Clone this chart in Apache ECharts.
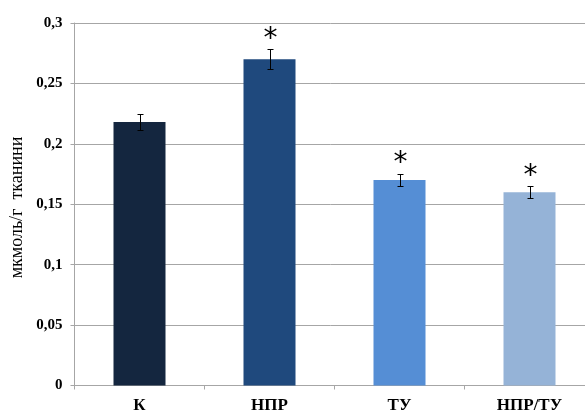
<!DOCTYPE html>
<html><head><meta charset="utf-8">
<script src="https://cdn.jsdelivr.net/npm/echarts@6/dist/echarts.min.js"></script>
<style>html,body{margin:0;padding:0;background:#fff}#c{width:585px;height:415px}</style>
</head><body><div id="c"></div>
<script>
const categories = ['К', 'НПР', 'ТУ', 'НПР/ТУ'];
const values = [0.218, 0.270, 0.170, 0.160];
const errors = [0.0065, 0.0083, 0.0053, 0.0049];
const marks = ['', '*', '*', '*'];
const colors = ['#14263f', '#1f497d', '#558ed5', '#95b3d7'];
const yTicks = [0, 0.05, 0.1, 0.15, 0.2, 0.25, 0.3];
const yName = 'мкмоль/г  тканини';

const chart = echarts.init(document.getElementById('c'));
chart.setOption({
  animation: false,
  grid: {left: 74.5, right: -9.5, top: 23, bottom: 29.5, containLabel: false, outerBoundsMode: 'none'},
  graphic: [{
    type: 'text', x: 17, y: 207.5, rotation: Math.PI / 2,
    style: {text: yName, align: 'center', verticalAlign: 'middle', font: '18px "Liberation Serif"', fill: '#000'}
  }],
  xAxis: {
    type: 'category', data: categories,
    axisLine: {lineStyle: {color: '#a6a6a6', width: 1}},
    axisTick: {show: true, length: 4, lineStyle: {color: '#a6a6a6'}},
    axisLabel: {color: '#000', fontFamily: 'Liberation Serif', fontWeight: 'bold', fontSize: 17, margin: 12}
  },
  yAxis: {
    type: 'value', min: 0, max: 0.3, interval: 0.05,
    axisLine: {show: true, lineStyle: {color: '#a6a6a6'}},
    axisTick: {show: true, length: 4, lineStyle: {color: '#a6a6a6'}},
    splitLine: {lineStyle: {color: '#a6a6a6', width: 1}},
    axisLabel: {
      color: '#000', fontFamily: 'Liberation Serif', fontWeight: 'bold', fontSize: 15, margin: 12,
      formatter: v => {
        const t = yTicks.find(x => Math.abs(x - v) < 1e-9);
        return String(+(t ?? v).toFixed(2)).replace('.', ',');
      }
    }
  },
  series: [
    {
      type: 'bar', barWidth: 52,
      data: values.map((v, i) => ({value: v, itemStyle: {color: colors[i]}}))
    },
    {
      type: 'custom', z: 10,
      data: values.map((v, i) => [i, v, errors[i], marks[i]]),
      renderItem: (params, api) => {
        const x = api.value(0), v = api.value(1), e = api.value(2);
        const top = api.coord([x, v + e]);
        const bot = api.coord([x, v - e]);
        const cx = Math.round(top[0]) + 0.5;
        const ty = Math.round(top[1]) + 0.5, by = Math.round(bot[1]) + 0.5;
        const children = [
          {type: 'line', shape: {x1: cx, y1: ty, x2: cx, y2: by}, style: {stroke: '#000', lineWidth: 1}},
          {type: 'line', shape: {x1: cx - 3, y1: ty, x2: cx + 3, y2: ty}, style: {stroke: '#000', lineWidth: 1}},
          {type: 'line', shape: {x1: cx - 3, y1: by, x2: cx + 3, y2: by}, style: {stroke: '#000', lineWidth: 1}}
        ];
        const m = marks[params.dataIndex];
        if (m) {
          children.push({type: 'text', style: {text: m, x: cx, y: top[1] + 4, align: 'center', verticalAlign: 'bottom',
            font: '28px "DejaVu Sans"', fill: '#000'}});
        }
        return {type: 'group', children};
      }
    }
  ]
});
</script></body></html>
